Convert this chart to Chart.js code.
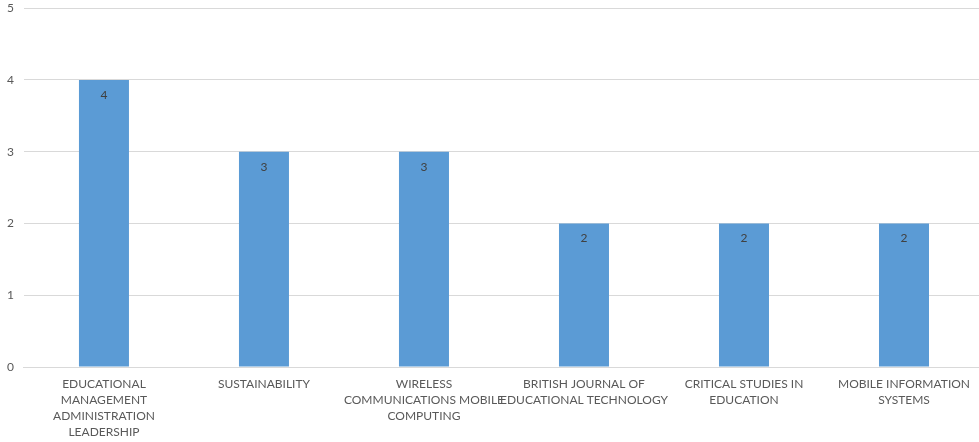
<!DOCTYPE html>
<html><head><meta charset="utf-8">
<script src="https://cdn.jsdelivr.net/npm/chart.js@4/dist/chart.umd.min.js"></script>
<style>html,body{margin:0;padding:0;overflow:hidden;background:#fff;width:979px;height:442px;position:relative}#wrap{width:987px;height:450px;position:absolute;left:-3px;top:-9px}</style>
</head><body><div id="wrap"><canvas id="c"></canvas></div>
<script>
const categories = [
  ["EDUCATIONAL","MANAGEMENT","ADMINISTRATION","LEADERSHIP"],
  ["SUSTAINABILITY"],
  ["WIRELESS","COMMUNICATIONS MOBILE","COMPUTING"],
  ["BRITISH JOURNAL OF","EDUCATIONAL TECHNOLOGY"],
  ["CRITICAL STUDIES IN","EDUCATION"],
  ["MOBILE INFORMATION","SYSTEMS"]
];
const values = [4, 3, 3, 2, 2, 2];
const yTicks = [0, 1, 2, 3, 4, 5];

const FONT = "Lato, 'Open Sans', sans-serif";
const labelPlugin = {
  id: 'barLabels',
  afterDatasetsDraw(chart) {
    const ctx = chart.ctx;
    const meta = chart.getDatasetMeta(0);
    ctx.save();
    ctx.fillStyle = '#404040';
    ctx.font = '12px ' + FONT;
    ctx.textAlign = 'center';
    ctx.textBaseline = 'middle';
    meta.data.forEach((bar, i) => {
      ctx.fillText(String(values[i]), bar.x, bar.y + 15);
    });
    ctx.restore();
  }
};

new Chart(document.getElementById('c'), {
  type: 'bar',
  data: { labels: categories, datasets: [{ data: values, backgroundColor: '#5b9bd5', categoryPercentage: 1, barPercentage: 0.3125 }] },
  options: {
    responsive: true, maintainAspectRatio: false, animation: false,
    layout: { padding: { top: 2, left: 0, right: 0, bottom: 0 } },
    plugins: { legend: { display: false }, tooltip: { enabled: false } },
    scales: {
      x: {
        grid: { display: false },
        border: { color: '#d9d9d9' },
        ticks: { color: '#595959', font: { family: FONT, size: 12, lineHeight: 1.3333 }, maxRotation: 0, autoSkip: false, padding: 1 }
      },
      y: {
        min: 0, max: 5,
        afterBuildTicks(axis) { axis.ticks = yTicks.map(v => ({ value: v })); },
        grid: { color: '#d9d9d9', drawTicks: false },
        border: { display: false },
        ticks: { color: '#595959', font: { family: FONT, size: 12 }, padding: 10 }
      }
    }
  },
  plugins: [labelPlugin]
});
</script></body></html>
